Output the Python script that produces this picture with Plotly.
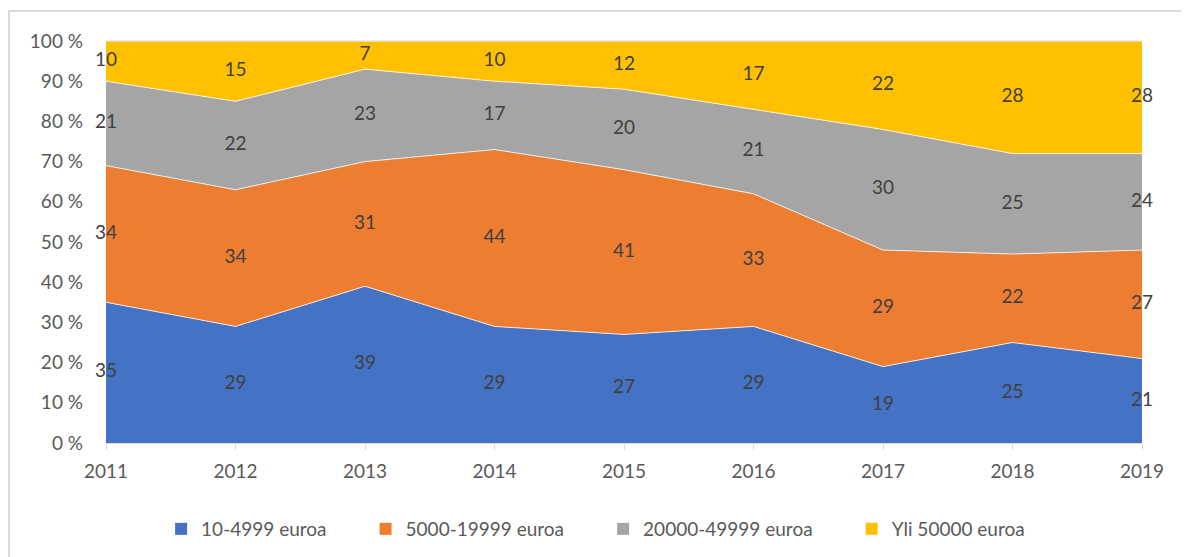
import plotly.graph_objects as go

# data (percent shares per year)
years = [2011, 2012, 2013, 2014, 2015, 2016, 2017, 2018, 2019]
names = ['10-4999 euroa', '5000-19999 euroa', '20000-49999 euroa', 'Yli 50000 euroa']
s_small = [35, 29, 39, 29, 27, 29, 19, 25, 21]
s_mid = [34, 34, 31, 44, 41, 33, 29, 22, 27]
s_large = [21, 22, 23, 17, 20, 21, 30, 25, 24]
s_top = [10, 15, 7, 10, 12, 17, 22, 28, 28]
y_ticks = [0, 10, 20, 30, 40, 50, 60, 70, 80, 90, 100]

series = [s_small, s_mid, s_large, s_top]
colors = ['#4472C4', '#ED7D31', '#A5A5A5', '#FFC000']
FONT = 'Lato'
FS = 19

fig = go.Figure()
for nm, vals, col in zip(names, series, colors):
    fig.add_trace(go.Scatter(
        x=years, y=vals, name=nm, mode='lines', stackgroup='one',
        line=dict(width=0.8, color='white'), fillcolor=col,
        hoverinfo='skip', showlegend=False))

# data labels centred in each band
base = [0] * len(years)
for vals in series:
    mids = [b + v / 2 for b, v in zip(base, vals)]
    fig.add_trace(go.Scatter(
        x=years, y=mids, mode='text', text=[str(v) for v in vals],
        textposition='middle center', showlegend=False, hoverinfo='skip',
        cliponaxis=False,
        textfont=dict(family=FONT, size=FS, color='#404040')))
    base = [b + v for b, v in zip(base, vals)]

# legend entries with square keys like the original
for nm, col in zip(names, colors):
    fig.add_trace(go.Scatter(
        x=[None], y=[None], mode='markers', name=nm + '\u00a0' * 7,
        marker=dict(symbol='square', size=12, color=col)))

fig.update_xaxes(
    range=[years[0], years[-1]], tickvals=years, ticktext=[str(y) for y in years],
    showgrid=False, zeroline=False, showline=True, linecolor='#d9d9d9', linewidth=1,
    ticks='outside', ticklen=6, tickcolor='#d9d9d9', ticklabelstandoff=5,
    automargin=False,
    tickfont=dict(family=FONT, size=FS, color='#595959'))
fig.update_yaxes(
    range=[0, 100], tickvals=y_ticks, ticktext=['%d %%' % t for t in y_ticks],
    showgrid=False, zeroline=False, showline=False, ticks='', ticklabelstandoff=22,
    automargin=False,
    tickfont=dict(family=FONT, size=FS, color='#595959'))

# page body adds 8px, so the figure is 8px smaller and margins shifted
fig.update_layout(
    width=1181, height=549,
    margin=dict(l=98, r=47, t=33, b=114),
    plot_bgcolor='white', paper_bgcolor='white',
    legend=dict(orientation='h', x=0.489, xanchor='center',
                yref='container', y=0.051, yanchor='middle',
                font=dict(family=FONT, size=FS, color='#595959'),
                itemwidth=30, traceorder='normal'),
    shapes=[
        dict(type='rect', xref='paper', yref='paper', x0=-0.0936, x1=1.2, y0=-0.4, y1=1.0746,
             line=dict(color='#d9d9d9', width=2), layer='below'),
        dict(type='line', xref='paper', yref='paper', x0=0, x1=1, y0=1, y1=1,
             line=dict(color='#d9d9d9', width=1)),
    ],
)

fig.write_html("out.html")
